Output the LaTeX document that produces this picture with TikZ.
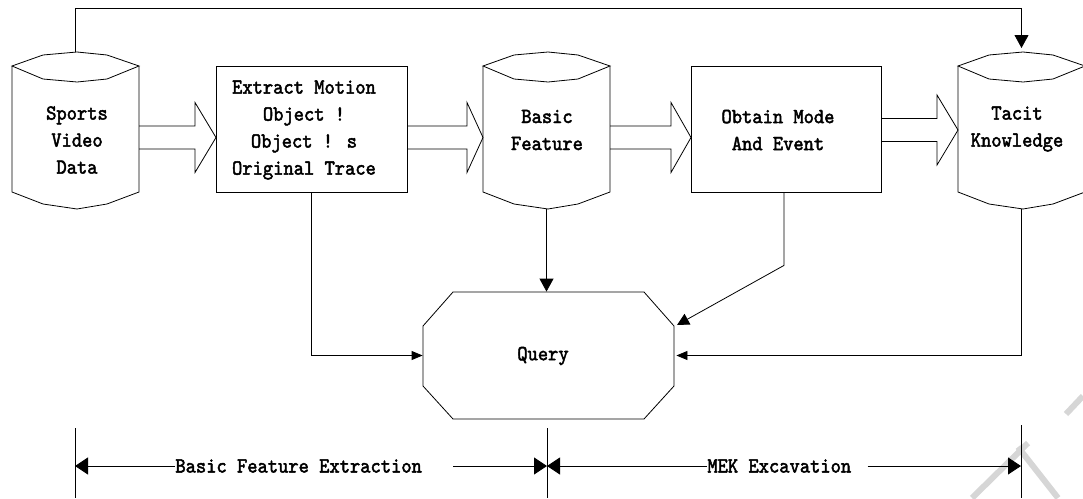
\documentclass[tikz,border=0pt]{standalone}
\usepackage{fontspec}
\newfontfamily\lbltt{lmmono10-regular.otf}[FakeBold=2.2, FakeStretch=0.91]
\usetikzlibrary{arrows.meta}
\tikzset{
  lbl/.style={font=\fontsize{21.5}{27}\selectfont\lbltt, align=center, inner sep=0pt},
  hold/.style={draw=none, inner sep=0pt, minimum width=127pt, minimum height=157pt},
  procbox/.style={draw, inner sep=0pt, minimum height=126pt},
  sarr/.style={-{Triangle[length=11pt,width=9pt]}},
  marr/.style={-{Triangle[length=12pt,width=12pt]}},
  barr/.style={-{Triangle[length=13pt,width=14pt]}},
  darr/.style={-{Triangle[length=13pt,width=17pt]}},
  wmark/.style={draw=black!16, line width=6pt}
}
\newcommand\dbcyl[1]{%
  \begin{scope}[xshift=#1pt]
    \draw (0,66) -- (31,55) -- (65,52) -- (95,55) -- (127,66) -- (95,79) -- (65,82) -- (31,79) -- cycle;
    \draw (0,66) -- (0,192) -- (31,204) -- (65,209) -- (95,204) -- (127,192) -- (127,66);
  \end{scope}}
\newcommand\fatarrow[4]{%
  \draw (#1,#4-11.5) -- (#2,#4-11.5) -- (#2,#4-35) -- (#3,#4) -- (#2,#4+35) -- (#2,#4+11.5) -- (#1,#4+11.5);}
\begin{document}
\begin{tikzpicture}[x=1pt, y=-1pt, line width=0.8pt]
\useasboundingbox (0,0) rectangle (1083,498);
% watermark strokes
\draw[wmark] (972,498) -- (1028,443);
\draw[wmark] (1018,447) -- (1058,498);
\draw[wmark] (1066,414) -- (1083,396);
% cylinders
\dbcyl{12}
\dbcyl{483}
\dbcyl{958}
\node[hold] (svd) at (75.5,130.5) {};
\node[hold] (bf) at (546.5,130.5) {};
\node[hold] (tk) at (1021.5,130.5) {};
\node[lbl] (svdt) at (77,140) {Sports\\Video\\Data};
\node[lbl] (bft) at (547,130) {Basic\\Feature};
\node[lbl] (tkt) at (1017,129) {Tacit\\Knowledge};
% process boxes
\node[procbox, minimum width=191pt] (ext) at (311.5,129) {};
\node[lbl] (extt) at (304,130) {Extract Motion\\Object !\\Object ! s\\Original Trace};
\node[procbox, minimum width=190pt] (ob) at (786,129) {};
\node[lbl] (obt) at (778,130) {Obtain Mode\\And Event};
% query octagon
\draw (453,292) -- (644,292) -- (674,326) -- (674,386) -- (644,419) -- (453,419) -- (423,386) -- (423,326) -- cycle;
\node[draw=none, inner sep=0pt, minimum width=251pt, minimum height=127pt] (q) at (548.5,355.5) {};
\node[lbl] (qt) at (543,356) {Query};
\coordinate (qne) at (677,325);
% fat arrows
\fatarrow{139}{195}{216}{137.5}
\fatarrow{407}{467}{483}{137.5}
\fatarrow{610}{671}{691}{137.5}
\fatarrow{881}{937}{958}{130}
% connectors
\coordinate (tktop) at (1021.5,48);
\draw[barr] (svd.north) -- ++(0,-43) -| (tktop);
\draw[sarr] (ext.south) |- (q.west);
\draw[barr] (bf.south) -- (bf.south |- q.north);
\draw[marr] ([xshift=-2pt]ob.south) -- ++(0,73) -- (qne);
\draw[sarr, shorten >=2pt] (tk.south) |- (q.east);
% dimension lines
\coordinate (d0) at (75,466);
\coordinate (d1) at (547,466);
\coordinate (d2) at (1021,466);
\draw (75,428) -- (75,498);
\draw (547,428) -- (547,498);
\draw (1021,425) -- (1021,498);
\node[lbl, anchor=west] (lab1) at (175,466) {Basic Feature Extraction};
\node[lbl, anchor=west] (lab2) at (707,466) {MEK Excavation};
\draw[darr] (lab1.west) -- (d0);
\draw[darr] ([xshift=31pt]lab1.east) -- (d1);
\draw[darr] (lab2.west) -- (d1);
\draw[darr] ([xshift=16pt]lab2.east) -- (d2);
\end{tikzpicture}
\end{document}
